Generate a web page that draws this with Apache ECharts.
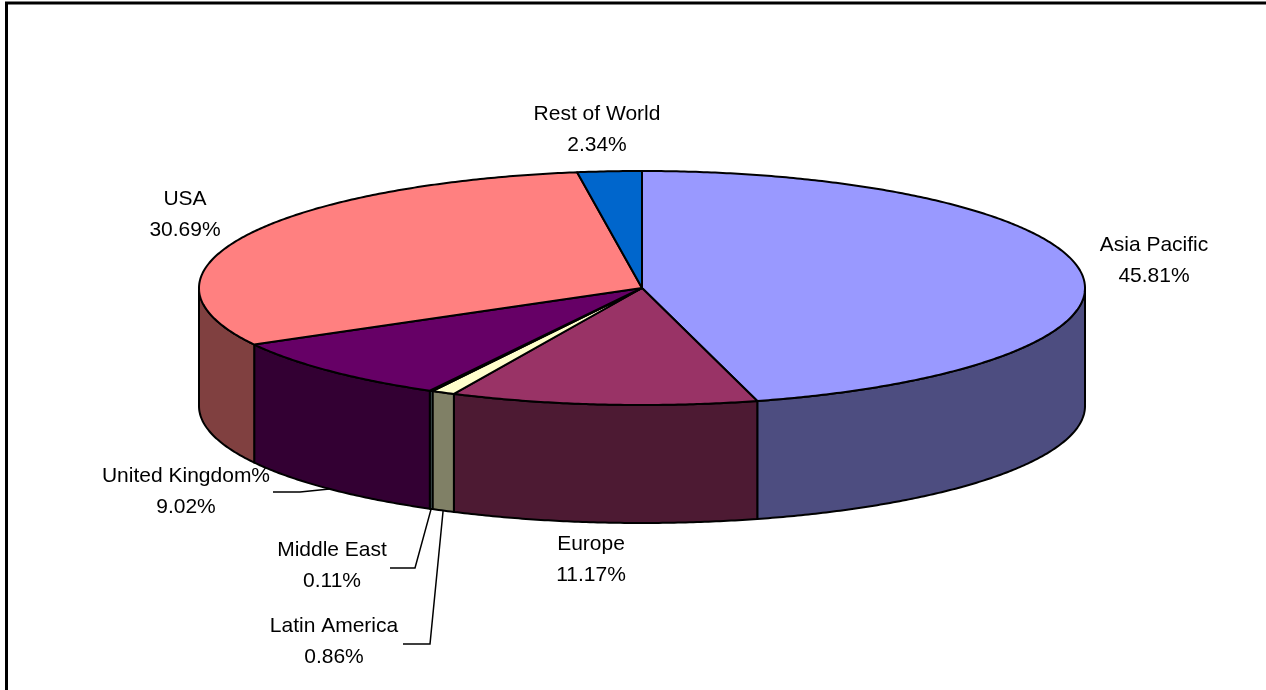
<!DOCTYPE html>
<html>
<head>
<meta charset="utf-8">
<title>Regional share</title>
<script src="https://cdn.jsdelivr.net/npm/echarts@6/dist/echarts.min.js"></script>
<style>
  html, body { margin: 0; padding: 0; background: #fff; }
  #chart { width: 1266px; height: 690px; }
</style>
</head>
<body>
<div id="chart"></div>
<script>
// Share of total by region, in percent, clockwise from 12 o'clock
const categories = ['Asia Pacific', 'Europe', 'Latin America', 'Middle East', 'United Kingdom%', 'USA', 'Rest of World'];
const shares = [45.81, 11.17, 0.86, 0.11, 9.02, 30.69, 2.34];

// Face and wall colours of each slice
const topColors = ['#9999FF', '#993366', '#FFFFCC', '#CCFFFF', '#660066', '#FF8080', '#0066CC'];
const sideColors = ['#4D4D80', '#4D1A33', '#808066', '#668080', '#330033', '#804040', '#003366'];

// Geometry of the tilted disc
const disc = { cx: 642, cy: 288, rx: 443, ry: 117, depth: 118 };

// Label block centres, and elbows of leader lines for crowded slices
const labelCenters = [[1154, 261], [591, 560], [334, 642], [332, 566], [186, 492], [185, 215], [597, 130]];
const leaderElbows = [null, null, [430, 644], [415, 568], [300, 492], null, null];
const leaderTailX = [null, null, 403, 390, 273, null, null];

const total = shares.reduce((a, b) => a + b, 0);
const startAngles = [];
shares.reduce((acc, v, i) => { startAngles[i] = acc; return acc + v; }, 0);

function toDeg(v) { return v / total * 360; }
function rimPoint(deg, drop) {
  const r = deg * Math.PI / 180;
  return [disc.cx + disc.rx * Math.sin(r), disc.cy - disc.ry * Math.cos(r) + (drop || 0)];
}
function arc(a, b, drop) {
  const pts = [];
  const n = Math.max(2, Math.ceil((b - a) / 0.5));
  for (let k = 0; k <= n; k++) pts.push(rimPoint(a + (b - a) * k / n, drop));
  return pts;
}

function renderSlice(params, api) {
  const i = params.dataIndex;
  const v = api.value(0);
  const a = toDeg(startAngles[i]);
  const b = a + toDeg(v);
  const children = [];
  const edge = { stroke: '#000', lineWidth: 2, lineJoin: 'round' };

  // outer wall, only on the front half of the disc
  const lo = Math.max(a, 90), hi = Math.min(b, 270);
  if (hi > lo) {
    const topRim = arc(lo, hi, 0);
    const bottomRim = arc(lo, hi, disc.depth).reverse();
    children.push({
      type: 'polygon', z2: 1,
      shape: { points: topRim.concat(bottomRim) },
      style: Object.assign({ fill: sideColors[i] }, edge)
    });
  }

  // top face
  children.push({
    type: 'polygon', z2: 2,
    shape: { points: [[disc.cx, disc.cy]].concat(arc(a, b, 0)) },
    style: Object.assign({ fill: topColors[i] }, edge)
  });

  // leader line from the bottom rim to the label
  if (leaderElbows[i]) {
    const mid = rimPoint((a + b) / 2, disc.depth);
    children.push({
      type: 'polyline', z2: 3,
      shape: { points: [mid, leaderElbows[i], [leaderTailX[i], leaderElbows[i][1]]] },
      style: { stroke: '#000', lineWidth: 1.5, fill: null }
    });
  }

  // label
  const c = labelCenters[i];
  children.push({
    type: 'text', z2: 4,
    style: {
      text: categories[i] + '\n' + v.toFixed(2) + '%',
      x: c[0], y: c[1],
      align: 'center', verticalAlign: 'middle',
      fontSize: 21, fontFamily: '"Liberation Sans", Arial, sans-serif',
      lineHeight: 31, fill: '#000'
    }
  });

  return { type: 'group', children: children };
}

const chart = echarts.init(document.getElementById('chart'), null, { renderer: 'canvas' });
chart.setOption({
  backgroundColor: '#fff',
  animation: false,
  graphic: [{
    type: 'rect', z: -1,
    shape: { x: 6.5, y: 3, width: 1300, height: 720 },
    style: { fill: '#fff', stroke: '#000', lineWidth: 3 }
  }],
  series: [{
    type: 'custom',
    coordinateSystem: 'none',
    renderItem: renderSlice,
    data: shares.map((v, i) => ({ name: categories[i], value: [v] }))
  }]
});
</script>
</body>
</html>
